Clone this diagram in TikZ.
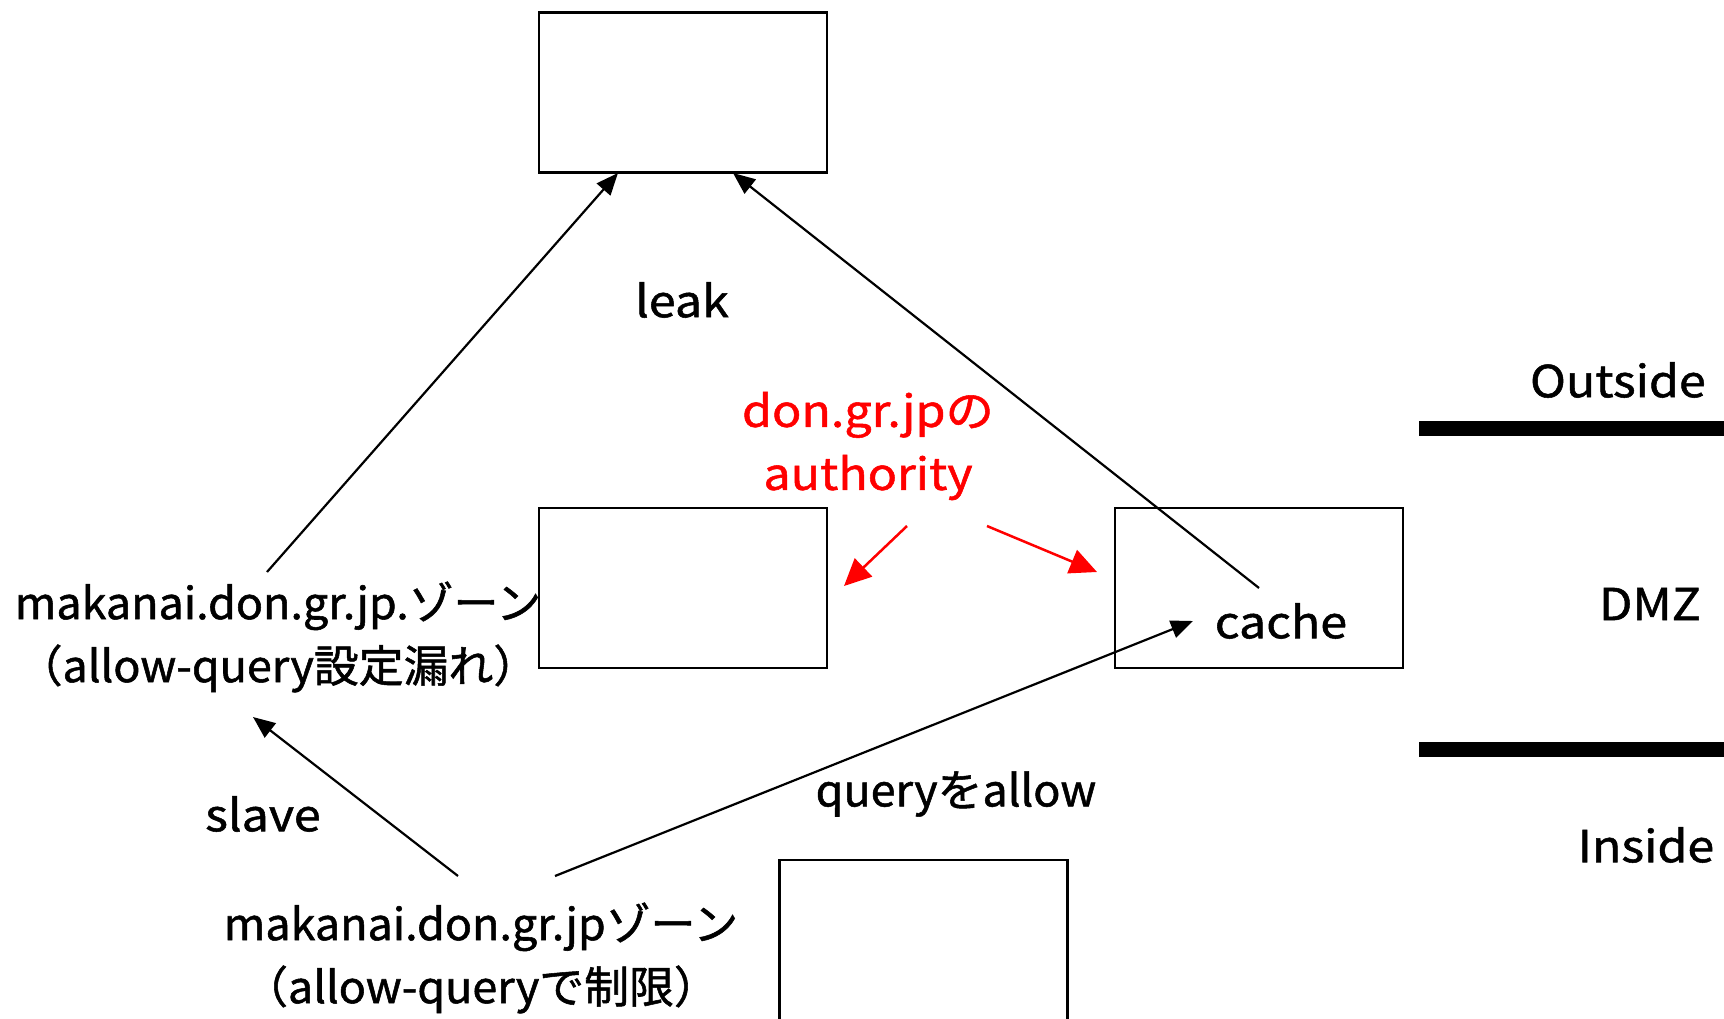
\documentclass[tikz,border=0pt]{standalone}
\usepackage{fontspec}
\setmainfont{Noto Sans CJK JP}[FakeStretch=1.1, FakeBold=1.2]
\newfontfamily\zonefont{Noto Sans CJK JP}[FakeStretch=1.02, FakeBold=1.2]
\usetikzlibrary{arrows.meta}
\tikzset{
  server/.style={draw=black, line width=2.5pt, minimum width=288pt, minimum height=160pt, inner sep=0pt},
  label/.style={font=\fontsize{44}{63}\selectfont, align=center, inner sep=0pt},
  zonelabel/.style={label, font=\zonefont\fontsize{44}{63}\selectfont},
  link/.style={line width=2.2pt, -{Triangle[length=22pt, width=18pt]}},
  redlink/.style={red, line width=2.5pt, -{Triangle[length=27pt, width=25pt]}},
  zoneline/.style={line width=15pt}
}
\begin{document}
\begin{tikzpicture}[x=1pt, y=-1pt]
  \useasboundingbox[fill=white] (0,0) rectangle (1724,1018);

  % servers
  \node[server] (top) at (683,92.5) {};
  \node[server] (auth) at (683,588) {};
  \node[server] (cachebox) at (1259,588) {};
  \node[server, minimum height=200pt] (inside) at (923.5,960) {};

  % labels
  \node[label] (leak) at (682,300) {leak};
  \node[label, red] (authlbl) at (868,446) {don.gr.jpの\\authority};
  \node[label] (cache) at (1281,621) {cache};
  \node[zonelabel] (slavezone) at (278,637) {makanai.don.gr.jp.ゾーン\\（allow-query設定漏れ）};
  \node[label] (slave) at (263,814) {slave};
  \node[zonelabel] (qallow) at (956,794) {queryをallow};
  \node[zonelabel] (masterzone) at (481,958) {makanai.don.gr.jpゾーン\\（allow-queryで制限）};
  \node[label, anchor=east] (outside) at (1706,380) {Outside};
  \node[label] (dmz) at (1650,604) {DMZ};
  \node[label] (insidelbl) at (1646,845) {Inside};

  % zone boundaries
  \draw[zoneline] (1419,428) -- (1724,428);
  \draw[zoneline] (1419,749) -- (1724,749);

  % connector ends
  \coordinate (s1) at (267,572);
  \coordinate (t1) at (618,173);
  \coordinate (c1) at (1259,588);
  \coordinate (t2) at (733,173);
  \coordinate (a1) at (907,526);
  \coordinate (a1e) at (844,586);
  \coordinate (a2) at (987,526);
  \coordinate (a2e) at (1097,572);
  \coordinate (m1) at (458,876);
  \coordinate (s2) at (253,717);
  \coordinate (m2) at (555,876);
  \coordinate (c2) at (1193,621);

  \draw[link] (s1) -- (t1);
  \draw[link] (c1) -- (t2);
  \draw[redlink] (a1) -- (a1e);
  \draw[redlink] (a2) -- (a2e);
  \draw[link] (m1) -- (s2);
  \draw[link] (m2) -- (c2);
\end{tikzpicture}
\end{document}
